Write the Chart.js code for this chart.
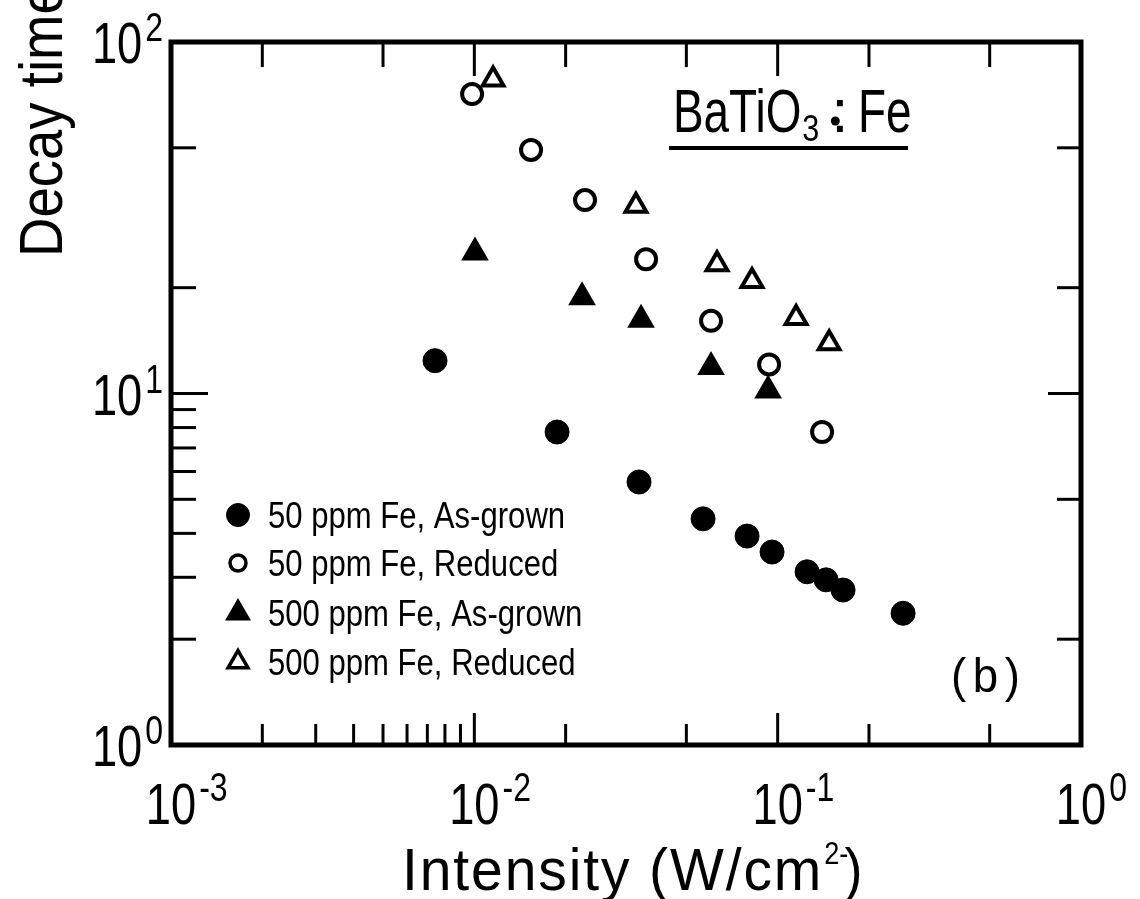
<!DOCTYPE html>
<html><head><meta charset="utf-8">
<script src="https://cdn.jsdelivr.net/npm/chart.js@4.4.1/dist/chart.umd.min.js"></script>
<style>html,body{margin:0;padding:0;background:#fff;}canvas{display:block;}</style>
</head><body>
<canvas id="c" width="1140" height="899"></canvas>
<script>
// ---- data ----
const seriesLabels = ['50 ppm Fe, As-grown', '50 ppm Fe, Reduced', '500 ppm Fe, As-grown', '500 ppm Fe, Reduced'];

const asGrown50X  = [0.00742, 0.01874, 0.03491, 0.05677, 0.07927, 0.09583, 0.1250, 0.1444, 0.1643, 0.2591];
const asGrown50Y  = [12.4, 7.77, 5.60, 4.40, 3.93, 3.54, 3.11, 2.95, 2.76, 2.37];

const reduced50X  = [0.00983, 0.01538, 0.02317, 0.03683, 0.0603, 0.0937, 0.1401];
const reduced50Y  = [71.1, 49.3, 35.5, 24.1, 16.1, 12.1, 7.77];

const asGrown500X = [0.01005, 0.02265, 0.03545, 0.0603, 0.0930];
const asGrown500Y = [25.2, 18.8, 16.2, 11.9, 10.2];

const reduced500X = [0.01153, 0.0341, 0.0631, 0.0823, 0.1150, 0.1478];
const reduced500Y = [78.2, 34.2, 23.3, 20.9, 16.4, 13.9];

// ---- axis ticks ----
const xDecadeTicks = [0.001, 0.01, 0.1, 1];
const xDecadeExp   = ['-3', '-2', '-1', '0'];
const yDecadeTicks = [1, 10, 100];
const yDecadeExp   = ['0', '1', '2'];
const xBottomShortTicks = [0.002, 0.003, 0.004, 0.005, 0.006, 0.007, 0.008, 0.009, 0.02, 0.05, 0.2, 0.5];
const xTopShortTicks    = [0.002, 0.005, 0.02, 0.05, 0.2, 0.5];
const xLongTicks        = [0.01, 0.1];
const yLeftShortTicks   = [2, 3, 4, 5, 6, 7, 8, 9, 20, 50];
const yRightShortTicks  = [2, 5, 20, 50];
const yLongTicks        = [10];

const xTitle = 'Intensity (W/cm';
const xTitleSup = '2-';
const yTitle = 'Decay time';
const sampleBase = 'BaTiO';
const sampleSub = '3';
const sampleRest = 'Fe';
const panelLabel = '(b)';

const REG = "'Liberation Sans', Arial, sans-serif";

function pts(xs, ys) { return xs.map((x, i) => ({ x: x, y: ys[i] })); }

const styles = [
  { pointStyle: 'circle',   radius: 12,   bg: '#000', bw: 1 },
  { pointStyle: 'circle',   radius: 10,   bg: '#fff', bw: 4 },
  { pointStyle: 'triangle', radius: 14,   bg: '#000', bw: 2 },
  { pointStyle: 'triangle', radius: 12,   bg: '#fff', bw: 4 }
];
const legendStyles = [
  { pointStyle: 'circle',   radius: 11.5, bg: '#000', bw: 1 },
  { pointStyle: 'circle',   radius: 8,    bg: '#fff', bw: 3.5 },
  { pointStyle: 'triangle', radius: 13,   bg: '#000', bw: 2 },
  { pointStyle: 'triangle', radius: 11.5, bg: '#fff', bw: 3.5 }
];
const allData = [pts(asGrown50X, asGrown50Y), pts(reduced50X, reduced50Y), pts(asGrown500X, asGrown500Y), pts(reduced500X, reduced500Y)];

const datasets = allData.map((d, i) => ({
  label: seriesLabels[i],
  data: d,
  pointStyle: styles[i].pointStyle,
  pointRadius: styles[i].radius,
  pointHoverRadius: styles[i].radius,
  backgroundColor: styles[i].bg,
  borderColor: '#000',
  pointBorderWidth: styles[i].bw,
  borderWidth: styles[i].bw,
  showLine: false
}));

// draw text with horizontal condensation; returns drawn width
function txt(ctx, s, x, y, size, sx, align) {
  ctx.font = size + 'px ' + REG;
  const w = ctx.measureText(s).width * sx;
  let x0 = x;
  if (align === 'center') x0 = x - w / 2;
  else if (align === 'right') x0 = x - w;
  ctx.save();
  ctx.translate(x0, y);
  ctx.scale(sx, 1);
  ctx.textAlign = 'left';
  ctx.textBaseline = 'alphabetic';
  ctx.fillText(s, 0, 0);
  ctx.restore();
  return w;
}
function textW(ctx, s, size, sx) { ctx.font = size + 'px ' + REG; return ctx.measureText(s).width * sx; }

const LBL = 58, LBLSX = 0.78, SUP = 40, SUPSX = 0.8;
function supLabel(ctx, x, y, exp, mode) {
  ctx.fillStyle = '#000';
  const bw = textW(ctx, '10', LBL, LBLSX);
  const ew = textW(ctx, exp, SUP, SUPSX);
  let x0, baseY, supY;
  if (mode === 'x') { x0 = x - bw / 2; baseY = 824; supY = 801; }
  else { x0 = 163 - ew - 3 - bw; baseY = y + 21; supY = y - 1; }
  txt(ctx, '10', x0, baseY, LBL, LBLSX, 'left');
  txt(ctx, exp, x0 + bw + 3, supY, SUP, SUPSX, 'left');
}

const paperPlugin = {
  id: 'paper',
  beforeDatasetsDraw(chart) {
    const ctx = chart.ctx, a = chart.chartArea;
    const xs = chart.scales.x, ys = chart.scales.y;
    ctx.save();
    ctx.strokeStyle = '#000';
    ctx.lineWidth = 3;
    ctx.lineCap = 'butt';
    const line = (x1, y1, x2, y2) => { ctx.beginPath(); ctx.moveTo(x1, y1); ctx.lineTo(x2, y2); ctx.stroke(); };
    xBottomShortTicks.forEach(v => { const p = xs.getPixelForValue(v); line(p, a.bottom, p, a.bottom - 21); });
    xTopShortTicks.forEach(v => { const p = xs.getPixelForValue(v); line(p, a.top, p, a.top + 25); });
    xLongTicks.forEach(v => { const p = xs.getPixelForValue(v); line(p, a.bottom, p, a.bottom - 32); line(p, a.top, p, a.top + 34); });
    yLeftShortTicks.forEach(v => { const p = ys.getPixelForValue(v); line(a.left, p, a.left + 25, p); });
    yRightShortTicks.forEach(v => { const p = ys.getPixelForValue(v); line(a.right, p, a.right - 24, p); });
    yLongTicks.forEach(v => { const p = ys.getPixelForValue(v); line(a.left, p, a.left + 37, p); line(a.right, p, a.right - 33, p); });
    ctx.lineWidth = 5;
    ctx.lineJoin = 'miter';
    ctx.strokeRect(a.left, a.top, a.right - a.left, a.bottom - a.top);
    ctx.restore();
  },
  afterDraw(chart) {
    const ctx = chart.ctx;
    const xs = chart.scales.x, ys = chart.scales.y;
    ctx.save();
    ctx.fillStyle = '#000';
    ctx.strokeStyle = '#000';
    // tick labels
    xDecadeTicks.forEach((v, i) => supLabel(ctx, xs.getPixelForValue(v), 0, xDecadeExp[i], 'x'));
    yDecadeTicks.forEach((v, i) => supLabel(ctx, 0, ys.getPixelForValue(v), yDecadeExp[i], 'y'));

    // x title
    ctx.letterSpacing = '2px';
    let w = txt(ctx, xTitle, 402, 890, 60, 0.95, 'left');
    ctx.letterSpacing = '0px';
    const sw = txt(ctx, xTitleSup, 402 + w + 1, 864, 32, 0.85, 'left');
    txt(ctx, ')', 402 + w + sw - 3, 890, 60, 0.9, 'left');

    // y title (rotated)
    ctx.save();
    ctx.translate(62, 257);
    ctx.rotate(-Math.PI / 2);
    txt(ctx, yTitle, 0, 0, 62, 0.88, 'left');
    ctx.restore();

    // sample annotation
    const ASX = 0.74;
    let bx = 673;
    bx += txt(ctx, sampleBase, bx, 132, 62, ASX, 'left') + 1;
    bx += txt(ctx, sampleSub, bx, 141, 36, 0.85, 'left') + 12;
    ctx.beginPath(); ctx.arc(bx + 4, 121, 4.5, 0, Math.PI * 2); ctx.fill();
    txt(ctx, ':', bx, 132, 62, 1, 'left');
    txt(ctx, sampleRest, 858, 132, 62, ASX, 'left');
    ctx.lineWidth = 4;
    ctx.beginPath(); ctx.moveTo(669, 148); ctx.lineTo(908, 148); ctx.stroke();

    // panel label
    ctx.letterSpacing = '7px';
    txt(ctx, panelLabel, 951, 692, 48, 0.95, 'left');
    ctx.letterSpacing = '0px';

    // legend
    const rows = [515, 563, 613, 662];
    chart.data.datasets.forEach((ds, i) => {
      const st = legendStyles[i];
      ctx.fillStyle = st.bg;
      ctx.strokeStyle = '#000';
      ctx.lineWidth = st.bw;
      Chart.helpers.drawPoint(ctx, { pointStyle: st.pointStyle, radius: st.radius, rotation: 0, borderWidth: st.bw }, 238, rows[i]);
      ctx.fillStyle = '#000';
      txt(ctx, ds.label, 268, rows[i] + 13, 37, 0.84, 'left');
    });
    ctx.restore();
  }
};

new Chart(document.getElementById('c'), {
  type: 'scatter',
  data: { datasets: datasets },
  options: {
    responsive: false,
    animation: false,
    devicePixelRatio: 1,
    layout: { padding: { left: 171, right: 59, top: 42, bottom: 154 } },
    plugins: { legend: { display: false }, tooltip: { enabled: false } },
    scales: {
      x: { type: 'logarithmic', min: 0.001, max: 1, display: false },
      y: { type: 'logarithmic', min: 1, max: 100, display: false }
    }
  },
  plugins: [paperPlugin]
});
</script>
</body></html>
